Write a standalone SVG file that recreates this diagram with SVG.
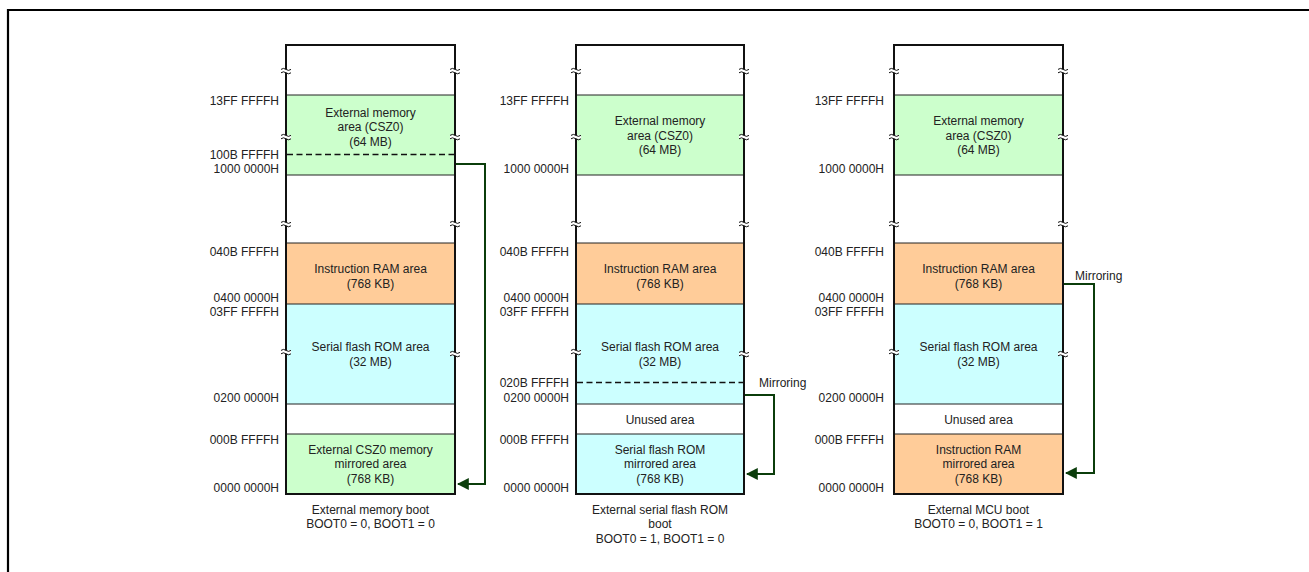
<svg xmlns="http://www.w3.org/2000/svg" xmlns:xlink="http://www.w3.org/1999/xlink" width="1309" height="572" viewBox="0 0 1309 572">
<style>
text{font-family:"Liberation Sans",Arial,sans-serif;font-size:12px;fill:#222}
.r{text-anchor:end}
.m{text-anchor:middle}
.g{fill:#CCFFCC}.o{fill:#FFCC99}.c{fill:#CCFFFF}.w{fill:#fff}
.div{stroke:#222;stroke-width:1}
.dash{stroke:#111;stroke-width:1.6;stroke-dasharray:6,3.5}
.outer{fill:none;stroke:#111;stroke-width:2}
.conn{fill:none;stroke:#0b3d0b;stroke-width:2}
</style>
<defs>
<marker id="ah" viewBox="0 0 10 10" refX="9" refY="5" markerWidth="6" markerHeight="6" orient="auto" markerUnits="strokeWidth">
<path d="M0,0 L10,5 L0,10 Z" fill="#0b3d0b"/>
</marker>
<g id="brk"><rect x="-5" y="-1.8" width="10" height="3.6" fill="#fff"/><path d="M-5,-1.6 q2.5,-2 5,0 t5,0 M-5,1.8 q2.5,-2 5,0 t5,0" fill="none" stroke="#111" stroke-width="1"/></g>
</defs>
<rect width="1309" height="572" fill="#fff"/>
<path d="M8,600 V10 H1320" fill="none" stroke="#000" stroke-width="2.2"/>

<g id="map1">
<rect class="w" x="286" y="45" width="169" height="50"/>
<rect class="g" x="286" y="95" width="169" height="80"/>
<rect class="w" x="286" y="175" width="169" height="68"/>
<rect class="o" x="286" y="243" width="169" height="61"/>
<rect class="c" x="286" y="304" width="169" height="100"/>
<rect class="w" x="286" y="404" width="169" height="30"/>
<rect class="g" x="286" y="434" width="169" height="60"/>
<path class="div" d="M286,95H455M286,175H455M286,243H455M286,304H455M286,404H455M286,434H455"/>
<path class="dash" d="M287,154.5H455"/>
<rect class="outer" x="286" y="45" width="169" height="449"/>
<use xlink:href="#brk" x="286" y="71"/><use xlink:href="#brk" x="455" y="71"/>
<use xlink:href="#brk" x="286" y="137"/><use xlink:href="#brk" x="455" y="137"/>
<use xlink:href="#brk" x="286" y="224"/><use xlink:href="#brk" x="455" y="224"/>
<use xlink:href="#brk" x="286" y="352"/><use xlink:href="#brk" x="455" y="354"/>
<text class="m" x="370.5" y="116.5">External memory</text>
<text class="m" x="370.5" y="131">area (CSZ0)</text>
<text class="m" x="370.5" y="145.5">(64 MB)</text>
<text class="m" x="370.5" y="272.5">Instruction RAM area</text>
<text class="m" x="370.5" y="287.5">(768 KB)</text>
<text class="m" x="370.5" y="351">Serial flash ROM area</text>
<text class="m" x="370.5" y="365.5">(32 MB)</text>
<text class="m" x="370.5" y="453.5">External CSZ0 memory</text>
<text class="m" x="370.5" y="468">mirrored area</text>
<text class="m" x="370.5" y="483">(768 KB)</text>
<text class="r" x="279" y="104.5">13FF FFFFH</text>
<text class="r" x="279" y="158.5">100B FFFFH</text>
<text class="r" x="279" y="172.5">1000 0000H</text>
<text class="r" x="279" y="255.5">040B FFFFH</text>
<text class="r" x="279" y="302">0400 0000H</text>
<text class="r" x="279" y="316">03FF FFFFH</text>
<text class="r" x="279" y="402">0200 0000H</text>
<text class="r" x="279" y="443.5">000B FFFFH</text>
<text class="r" x="279" y="491.5">0000 0000H</text>
<text class="m" x="370.5" y="513.5">External memory boot</text>
<text class="m" x="370.5" y="527.5">BOOT0 = 0, BOOT1 = 0</text>
</g>

<g id="map2">
<rect class="w" x="576" y="45" width="168" height="50"/>
<rect class="g" x="576" y="95" width="168" height="80"/>
<rect class="w" x="576" y="175" width="168" height="68"/>
<rect class="o" x="576" y="243" width="168" height="61"/>
<rect class="c" x="576" y="304" width="168" height="100"/>
<rect class="w" x="576" y="404" width="168" height="30"/>
<rect class="c" x="576" y="434" width="168" height="60"/>
<path class="div" d="M576,95H744M576,175H744M576,243H744M576,304H744M576,404H744M576,434H744"/>
<path class="dash" d="M577,382.5H744"/>
<rect class="outer" x="576" y="45" width="168" height="449"/>
<use xlink:href="#brk" x="576" y="71"/><use xlink:href="#brk" x="744" y="71"/>
<use xlink:href="#brk" x="576" y="137"/><use xlink:href="#brk" x="744" y="137"/>
<use xlink:href="#brk" x="576" y="224"/><use xlink:href="#brk" x="744" y="224"/>
<use xlink:href="#brk" x="576" y="352"/><use xlink:href="#brk" x="744" y="354"/>
<text class="m" x="660" y="125">External memory</text>
<text class="m" x="660" y="140">area (CSZ0)</text>
<text class="m" x="660" y="154">(64 MB)</text>
<text class="m" x="660" y="272.5">Instruction RAM area</text>
<text class="m" x="660" y="287.5">(768 KB)</text>
<text class="m" x="660" y="351">Serial flash ROM area</text>
<text class="m" x="660" y="365.5">(32 MB)</text>
<text class="m" x="660" y="423.5">Unused area</text>
<text class="m" x="660" y="453.5">Serial flash ROM</text>
<text class="m" x="660" y="468">mirrored area</text>
<text class="m" x="660" y="483">(768 KB)</text>
<text class="r" x="569" y="104.5">13FF FFFFH</text>
<text class="r" x="569" y="172.5">1000 0000H</text>
<text class="r" x="569" y="255.5">040B FFFFH</text>
<text class="r" x="569" y="302">0400 0000H</text>
<text class="r" x="569" y="316">03FF FFFFH</text>
<text class="r" x="569" y="386.5">020B FFFFH</text>
<text class="r" x="569" y="401.5">0200 0000H</text>
<text class="r" x="569" y="443.5">000B FFFFH</text>
<text class="r" x="569" y="491.5">0000 0000H</text>
<text class="m" x="660" y="513.5">External serial flash ROM</text>
<text class="m" x="660" y="528">boot</text>
<text class="m" x="660" y="542.5">BOOT0 = 1, BOOT1 = 0</text>
</g>

<g id="map3">
<rect class="w" x="894" y="45" width="169" height="50"/>
<rect class="g" x="894" y="95" width="169" height="80"/>
<rect class="w" x="894" y="175" width="169" height="68"/>
<rect class="o" x="894" y="243" width="169" height="61"/>
<rect class="c" x="894" y="304" width="169" height="100"/>
<rect class="w" x="894" y="404" width="169" height="30"/>
<rect class="o" x="894" y="434" width="169" height="60"/>
<path class="div" d="M894,95H1063M894,175H1063M894,243H1063M894,304H1063M894,404H1063M894,434H1063"/>
<rect class="outer" x="894" y="45" width="169" height="449"/>
<use xlink:href="#brk" x="894" y="71"/><use xlink:href="#brk" x="1063" y="71"/>
<use xlink:href="#brk" x="894" y="137"/><use xlink:href="#brk" x="1063" y="137"/>
<use xlink:href="#brk" x="894" y="224"/><use xlink:href="#brk" x="1063" y="224"/>
<use xlink:href="#brk" x="894" y="352"/><use xlink:href="#brk" x="1063" y="354"/>
<text class="m" x="978.5" y="125">External memory</text>
<text class="m" x="978.5" y="140">area (CSZ0)</text>
<text class="m" x="978.5" y="154">(64 MB)</text>
<text class="m" x="978.5" y="272.5">Instruction RAM area</text>
<text class="m" x="978.5" y="287.5">(768 KB)</text>
<text class="m" x="978.5" y="351">Serial flash ROM area</text>
<text class="m" x="978.5" y="365.5">(32 MB)</text>
<text class="m" x="978.5" y="423.5">Unused area</text>
<text class="m" x="978.5" y="453.5">Instruction RAM</text>
<text class="m" x="978.5" y="468">mirrored area</text>
<text class="m" x="978.5" y="483">(768 KB)</text>
<text class="r" x="884" y="104.5">13FF FFFFH</text>
<text class="r" x="884" y="172.5">1000 0000H</text>
<text class="r" x="884" y="255.5">040B FFFFH</text>
<text class="r" x="884" y="302">0400 0000H</text>
<text class="r" x="884" y="316">03FF FFFFH</text>
<text class="r" x="884" y="402">0200 0000H</text>
<text class="r" x="884" y="443.5">000B FFFFH</text>
<text class="r" x="884" y="491.5">0000 0000H</text>
<text class="m" x="978.5" y="513.5">External MCU boot</text>
<text class="m" x="978.5" y="528">BOOT0 = 0, BOOT1 = 1</text>
</g>

<g id="connectors">
<path class="conn" d="M456,164H485V484H458" marker-end="url(#ah)"/>
<path class="conn" d="M745,395H774V474H747" marker-end="url(#ah)"/>
<path class="conn" d="M1064,284H1094V473H1066" marker-end="url(#ah)"/>
<text x="759" y="386.5">Mirroring</text>
<text x="1075" y="280">Mirroring</text>
</g>
</svg>
